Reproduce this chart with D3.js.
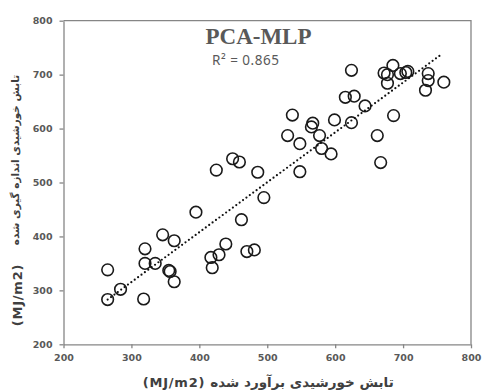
<!DOCTYPE html>
<html>
<head>
<meta charset="utf-8">
<script src="https://cdn.jsdelivr.net/npm/d3@7"></script>
<style>
  body { margin: 0; background: #fff; }
  .axis path, .axis line { stroke: #868686; stroke-width: 1.3; }
  .axis text { font-family: 'DejaVu Sans', sans-serif; font-weight: bold; font-size: 9.5px; fill: #595959; }
  .label { font-family: 'DejaVu Sans', sans-serif; font-weight: bold; fill: #404040; }
</style>
</head>
<body>
<div id="chart"></div>
<script>
// SVG dimensions
var w = 483;
var h = 392;
var margin = { top: 20.7, right: 12, bottom: 47.7, left: 63.5 };

var predicted = [265, 265, 284, 318, 320, 320, 335, 346, 363, 355, 357, 363, 417, 419, 429, 439,
  425, 449, 459, 486, 548, 495, 395, 462, 470, 481, 580, 594, 548, 624, 685, 672, 677, 677,
  696, 704, 707, 737, 737, 733, 760, 615, 628, 644, 599, 624, 686, 662, 667, 537, 567, 565, 530, 577];
var measured = [338, 283, 302, 284, 377, 350, 350, 403, 392, 337, 335, 316, 361, 342, 366, 386,
  523, 544, 538, 519, 520, 472, 445, 431, 372, 375, 563, 553, 572, 708, 717, 703, 700, 684,
  702, 704, 706, 702, 689, 671, 686, 658, 660, 642, 616, 611, 624, 587, 537, 625, 610, 603, 587, 587];

// Trend line end points
var trendX = [265, 758];
var trendY = [283, 739];

var ticks = [200, 300, 400, 500, 600, 700, 800];

var svg = d3.select('#chart')
  .append('svg')
  .attr('width', w)
  .attr('height', h);

// Scales
var xScale = d3.scaleLinear()
  .domain([200, 800])
  .range([margin.left, w - margin.right]);

var yScale = d3.scaleLinear()
  .domain([200, 800])
  .range([h - margin.bottom, margin.top]);

// Frame on top and right
svg.append('path')
  .attr('d', `M${xScale(200)},${yScale(800)}H${xScale(800)}V${yScale(200)}`)
  .attr('fill', 'none')
  .attr('stroke', '#868686')
  .attr('stroke-width', 1.3);

// Axes
var xAxis = d3.axisBottom(xScale)
  .tickValues(ticks)
  .tickSize(4)
  .tickSizeOuter(0)
  .tickPadding(6);

svg.append('g')
  .attr('class', 'axis')
  .attr('transform', `translate(0, ${h - margin.bottom})`)
  .call(xAxis);

var yAxis = d3.axisLeft(yScale)
  .tickValues(ticks)
  .tickSize(4)
  .tickSizeOuter(0)
  .tickPadding(7);

svg.append('g')
  .attr('class', 'axis')
  .attr('transform', `translate(${margin.left}, 0)`)
  .call(yAxis);

// Points
var points = predicted.map((p, i) => ({ x: p, y: measured[i] }));

svg.append('g')
  .selectAll('circle')
  .data(points)
  .enter()
  .append('circle')
  .attr('cx', d => xScale(d.x))
  .attr('cy', d => yScale(d.y))
  .attr('r', 5.8)
  .attr('fill', 'none')
  .attr('stroke', '#1a1a1a')
  .attr('stroke-width', 1.6);

// Dotted trend line
var line = d3.line()
  .x(d => xScale(d[0]))
  .y(d => yScale(d[1]));

svg.append('path')
  .datum(trendX.map((x, i) => [x, trendY[i]]))
  .attr('d', line)
  .attr('fill', 'none')
  .attr('stroke', '#111')
  .attr('stroke-width', 2.2)
  .attr('stroke-linecap', 'round')
  .attr('stroke-dasharray', '0,4.2');

// Title and R2
svg.append('text')
  .text('PCA-MLP')
  .attr('x', 258.5)
  .attr('y', 43.5)
  .attr('text-anchor', 'middle')
  .attr('font-family', "'Liberation Serif', serif")
  .attr('font-weight', 'bold')
  .attr('font-size', 23)
  .attr('fill', '#595959');

svg.append('text')
  .text('R² = 0.865')
  .attr('x', 212)
  .attr('y', 64.5)
  .attr('font-family', "'Noto Sans', sans-serif")
  .attr('font-size', 13.5)
  .attr('letter-spacing', 0.5)
  .attr('fill', '#595959');

// Axis labels: Persian part and unit part
svg.append('text')
  .attr('class', 'label')
  .text('تابش خورشیدی برآورد شده')
  .attr('x', 302)
  .attr('y', 386.5)
  .attr('text-anchor', 'middle')
  .attr('font-size', 13.5);

svg.append('text')
  .attr('class', 'label')
  .text('(MJ/m2)')
  .attr('x', 174)
  .attr('y', 386.5)
  .attr('text-anchor', 'middle')
  .attr('font-size', 13)
  .attr('letter-spacing', 0.8);

svg.append('text')
  .attr('class', 'label')
  .text('تابش خورشیدی اندازه گیری شده')
  .attr('transform', 'translate(19, 160) rotate(-90)')
  .attr('text-anchor', 'middle')
  .attr('font-size', 10.5);

svg.append('text')
  .attr('class', 'label')
  .text('(MJ/m2)')
  .attr('transform', 'translate(21.5, 295) rotate(-90)')
  .attr('text-anchor', 'middle')
  .attr('font-size', 13)
  .attr('letter-spacing', 0.8);
</script>
</body>
</html>
